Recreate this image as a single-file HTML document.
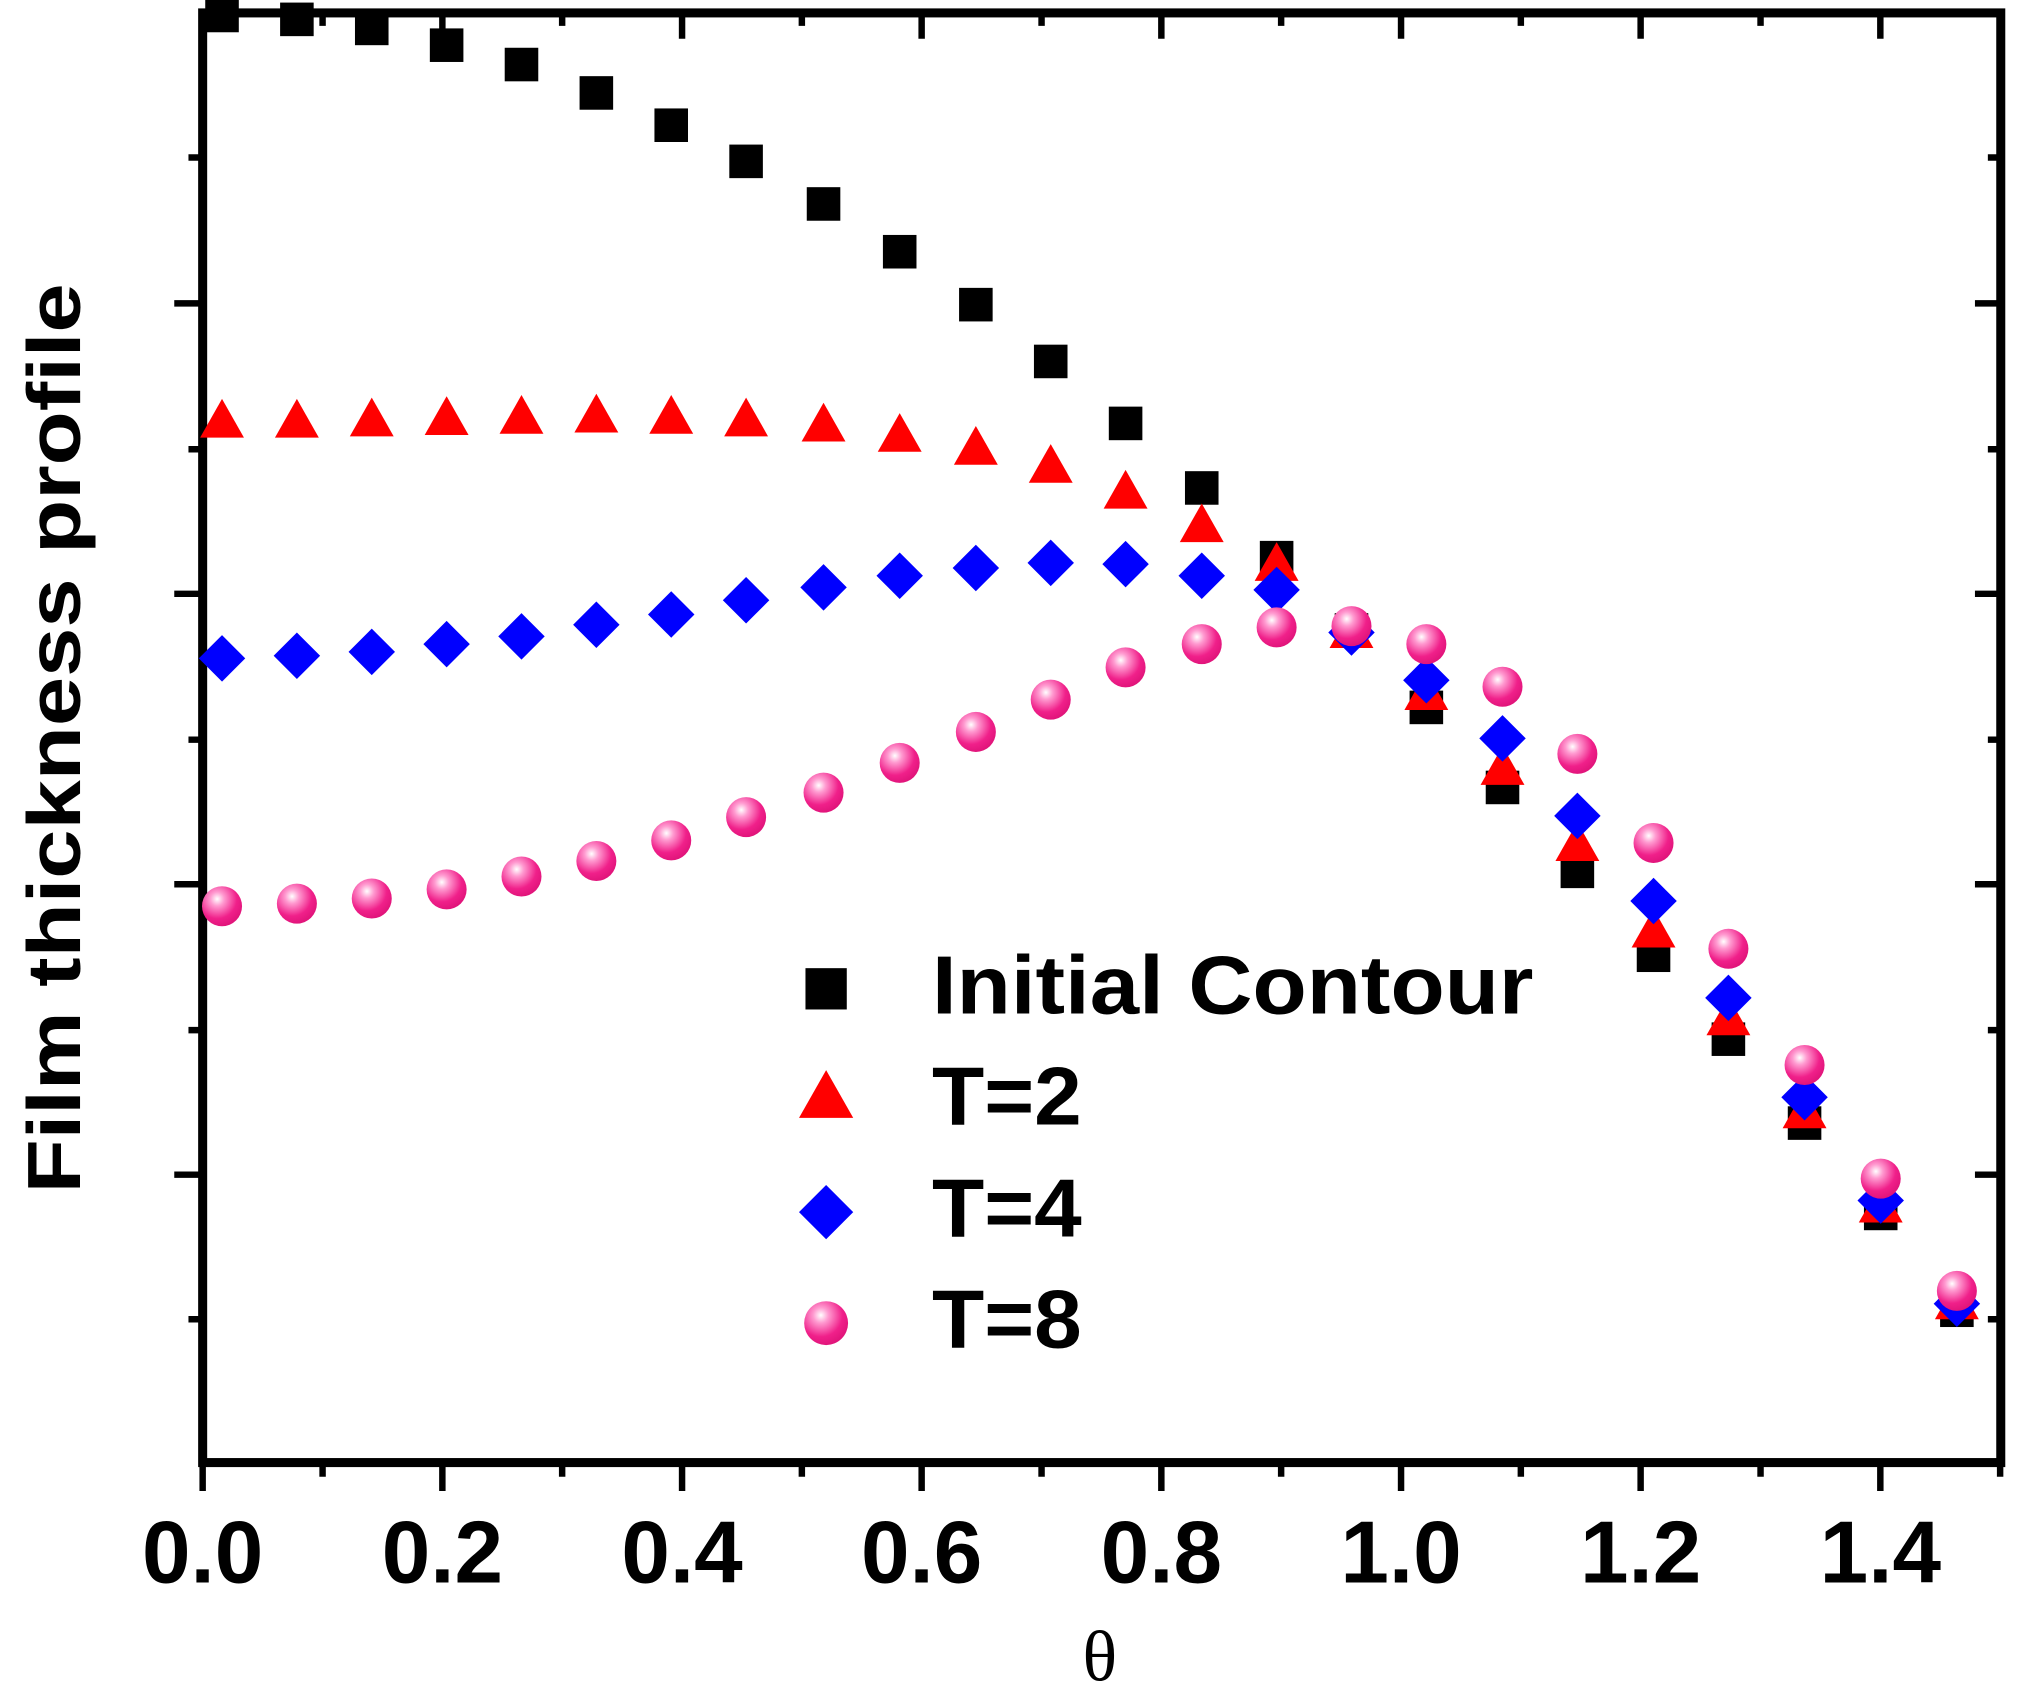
<!DOCTYPE html>
<html><head><meta charset="utf-8"><style>html,body{margin:0;padding:0;background:#fff}svg{display:block}</style></head>
<body>
<svg width="2024" height="1697" viewBox="0 0 1568 1314.6" preserveAspectRatio="none" xmlns="http://www.w3.org/2000/svg" xmlns:xlink="http://www.w3.org/1999/xlink">
<defs>
<radialGradient id="pg" cx="0.38" cy="0.32" r="0.7">
<stop offset="0" stop-color="#ffffff"/><stop offset="0.25" stop-color="#ff9ad0"/><stop offset="0.7" stop-color="#f0208a"/><stop offset="1" stop-color="#e0147a"/>
</radialGradient>
<rect id="sq" x="-13" y="-13" width="26" height="26" fill="#000"/>
<polygon id="tr" points="0,-18 17,12 -17,12" fill="#f00"/>
<polygon id="dm" points="0,-18 18,0 0,18 -18,0" fill="#00f"/>
<circle id="ci" r="15.5" fill="url(#pg)"/>
</defs>
<g stroke="#000" fill="none">
<rect x="157" y="10" width="1393" height="1123" stroke-width="7"/>
<path stroke-width="5" d="M157,1133v22M342.7,1133v22M528.4,1133v22M714,1133v22M899.7,1133v22M1085.4,1133v22M1271,1133v22M1456.7,1133v22
M249.9,1133v11M435.5,1133v11M621.2,1133v11M806.9,1133v11M992.5,1133v11M1178.2,1133v11M1363.9,1133v11M1549.5,1133v11
M342.7,10v20M528.4,10v20M714,10v20M899.7,10v20M1085.4,10v20M1271,10v20M1456.7,10v20
M249.9,10v10M435.5,10v10M621.2,10v10M806.9,10v10M992.5,10v10M1178.2,10v10M1363.9,10v10
M157,235h-22M157,460h-22M157,685h-22M157,910h-22
M157,122h-11M157,348h-11M157,573h-11M157,798h-11M157,1022h-11
M1550,235h-20M1550,460h-20M1550,685h-20M1550,910h-20
M1550,122h-10M1550,348h-10M1550,573h-10M1550,798h-10M1550,1022h-10"/>
</g>
<g font-family="Liberation Sans, Arial, sans-serif" font-weight="bold" font-size="68" text-anchor="middle" fill="#000">
<text x="157" y="1226" textLength="94" lengthAdjust="spacingAndGlyphs">0.0</text>
<text x="342.7" y="1226" textLength="94" lengthAdjust="spacingAndGlyphs">0.2</text>
<text x="528.4" y="1226" textLength="94" lengthAdjust="spacingAndGlyphs">0.4</text>
<text x="714" y="1226" textLength="94" lengthAdjust="spacingAndGlyphs">0.6</text>
<text x="899.7" y="1226" textLength="94" lengthAdjust="spacingAndGlyphs">0.8</text>
<text x="1085.4" y="1226" textLength="94" lengthAdjust="spacingAndGlyphs">1.0</text>
<text x="1271" y="1226" textLength="94" lengthAdjust="spacingAndGlyphs">1.2</text>
<text x="1456.7" y="1226" textLength="94" lengthAdjust="spacingAndGlyphs">1.4</text>
<text x="0" y="0" transform="translate(62,572) rotate(-90)" font-size="58" textLength="705" lengthAdjust="spacingAndGlyphs">Film thickness profile</text>
</g>
<text x="852" y="1302" font-family="Liberation Serif, serif" font-size="56" text-anchor="middle">θ</text>
<g>
<use xlink:href="#sq" x="172" y="12"/><use xlink:href="#sq" x="230" y="15"/><use xlink:href="#sq" x="288" y="22"/><use xlink:href="#sq" x="346" y="35"/><use xlink:href="#sq" x="404" y="50"/><use xlink:href="#sq" x="462" y="72"/><use xlink:href="#sq" x="520" y="97"/><use xlink:href="#sq" x="578" y="125"/><use xlink:href="#sq" x="638" y="158"/><use xlink:href="#sq" x="697" y="195"/><use xlink:href="#sq" x="756" y="236"/><use xlink:href="#sq" x="814" y="280"/><use xlink:href="#sq" x="872" y="328"/><use xlink:href="#sq" x="931" y="378"/><use xlink:href="#sq" x="989" y="432"/><use xlink:href="#sq" x="1047" y="488"/><use xlink:href="#sq" x="1105" y="548"/><use xlink:href="#sq" x="1164" y="610"/><use xlink:href="#sq" x="1222" y="675"/><use xlink:href="#sq" x="1281" y="740"/><use xlink:href="#sq" x="1339" y="805"/><use xlink:href="#sq" x="1398" y="870"/><use xlink:href="#sq" x="1457" y="940"/><use xlink:href="#sq" x="1516" y="1015"/>
<use xlink:href="#tr" x="172" y="327"/><use xlink:href="#tr" x="230" y="327"/><use xlink:href="#tr" x="288" y="326"/><use xlink:href="#tr" x="346" y="325"/><use xlink:href="#tr" x="404" y="324"/><use xlink:href="#tr" x="462" y="323"/><use xlink:href="#tr" x="520" y="324"/><use xlink:href="#tr" x="578" y="326"/><use xlink:href="#tr" x="638" y="330"/><use xlink:href="#tr" x="697" y="338"/><use xlink:href="#tr" x="756" y="348"/><use xlink:href="#tr" x="814" y="362"/><use xlink:href="#tr" x="872" y="382"/><use xlink:href="#tr" x="931" y="408"/><use xlink:href="#tr" x="989" y="438"/><use xlink:href="#tr" x="1047" y="490"/><use xlink:href="#tr" x="1105" y="538"/><use xlink:href="#tr" x="1164" y="596"/><use xlink:href="#tr" x="1222" y="655"/><use xlink:href="#tr" x="1281" y="722"/><use xlink:href="#tr" x="1339" y="790"/><use xlink:href="#tr" x="1398" y="862"/><use xlink:href="#tr" x="1457" y="935"/><use xlink:href="#tr" x="1516" y="1010"/>
<use xlink:href="#dm" x="172" y="510"/><use xlink:href="#dm" x="230" y="508"/><use xlink:href="#dm" x="288" y="505"/><use xlink:href="#dm" x="346" y="499"/><use xlink:href="#dm" x="404" y="493"/><use xlink:href="#dm" x="462" y="484"/><use xlink:href="#dm" x="520" y="476"/><use xlink:href="#dm" x="578" y="465"/><use xlink:href="#dm" x="638" y="455"/><use xlink:href="#dm" x="697" y="446"/><use xlink:href="#dm" x="756" y="440"/><use xlink:href="#dm" x="814" y="436"/><use xlink:href="#dm" x="872" y="437"/><use xlink:href="#dm" x="931" y="446"/><use xlink:href="#dm" x="989" y="457"/><use xlink:href="#dm" x="1047" y="490"/><use xlink:href="#dm" x="1105" y="527"/><use xlink:href="#dm" x="1164" y="572"/><use xlink:href="#dm" x="1222" y="632"/><use xlink:href="#dm" x="1281" y="698"/><use xlink:href="#dm" x="1339" y="773"/><use xlink:href="#dm" x="1398" y="850"/><use xlink:href="#dm" x="1457" y="930"/><use xlink:href="#dm" x="1516" y="1010"/>
<use xlink:href="#ci" x="172" y="702"/><use xlink:href="#ci" x="230" y="700"/><use xlink:href="#ci" x="288" y="696"/><use xlink:href="#ci" x="346" y="689"/><use xlink:href="#ci" x="404" y="679"/><use xlink:href="#ci" x="462" y="667"/><use xlink:href="#ci" x="520" y="651"/><use xlink:href="#ci" x="578" y="633"/><use xlink:href="#ci" x="638" y="614"/><use xlink:href="#ci" x="697" y="591"/><use xlink:href="#ci" x="756" y="567"/><use xlink:href="#ci" x="814" y="542"/><use xlink:href="#ci" x="872" y="517"/><use xlink:href="#ci" x="931" y="499"/><use xlink:href="#ci" x="989" y="486"/><use xlink:href="#ci" x="1047" y="485"/><use xlink:href="#ci" x="1105" y="499"/><use xlink:href="#ci" x="1164" y="532"/><use xlink:href="#ci" x="1222" y="584"/><use xlink:href="#ci" x="1281" y="653"/><use xlink:href="#ci" x="1339" y="735"/><use xlink:href="#ci" x="1398" y="825"/><use xlink:href="#ci" x="1457" y="913"/><use xlink:href="#ci" x="1516" y="1000"/>
</g>
<g font-family="Liberation Sans, Arial, sans-serif" font-weight="bold" font-size="64" fill="#000">
<rect x="624" y="750" width="32" height="32" fill="#000"/><text x="722" y="785" textLength="466" lengthAdjust="spacingAndGlyphs">Initial Contour</text>
<polygon points="640,829 661,866 619,866" fill="#f00"/><text x="722" y="871" textLength="116" lengthAdjust="spacingAndGlyphs">T=2</text>
<polygon points="640,918 661,939 640,960 619,939" fill="#00f"/><text x="722" y="958" textLength="116" lengthAdjust="spacingAndGlyphs">T=4</text>
<circle cx="640" cy="1025" r="17" fill="url(#pg)"/><text x="722" y="1044" textLength="116" lengthAdjust="spacingAndGlyphs">T=8</text>
</g>
</svg>
</body></html>
